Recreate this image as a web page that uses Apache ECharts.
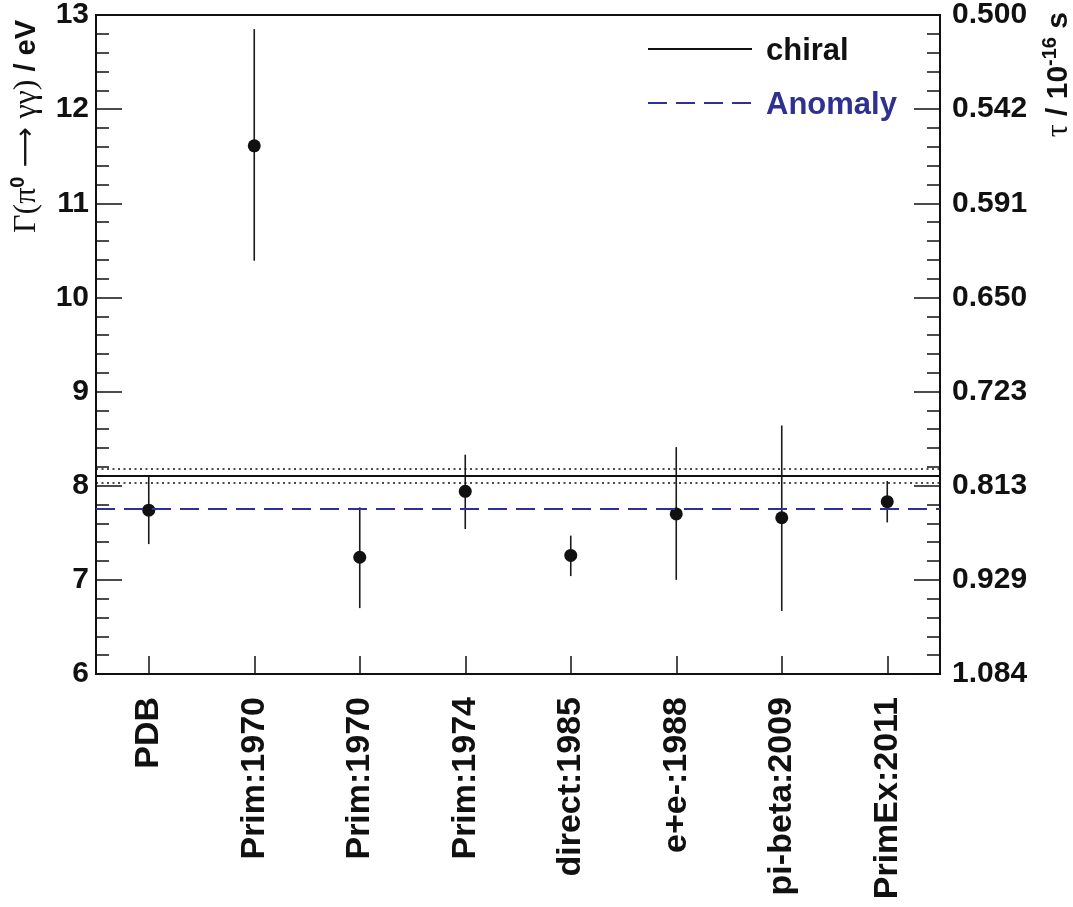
<!DOCTYPE html>
<html>
<head>
<meta charset="utf-8">
<script src="https://cdn.jsdelivr.net/npm/echarts@6/dist/echarts.min.js"></script>
<style>html,body{margin:0;padding:0;background:#fff}#c{width:1073px;height:907px}</style>
</head>
<body>
<div id="c"></div>
<script>
// ---- data ----
const categories = ['PDB','Prim:1970','Prim:1970','Prim:1974','direct:1985','e+e-:1988','pi-beta:2009','PrimEx:2011'];
const widths   = [7.74, 11.61, 7.24, 7.94, 7.26, 7.70, 7.66, 7.83];
const errLow   = [7.38, 10.39, 6.70, 7.54, 7.04, 7.00, 6.67, 7.61];
const errHigh  = [8.10, 12.85, 7.77, 8.33, 7.47, 8.41, 8.64, 8.05];
const chiralValue = 8.105;
const chiralBand  = [8.028, 8.18];
const anomalyValue = 7.765;
const legendNames = ['chiral', 'Anomaly'];
const leftTickValues  = [6, 7, 8, 9, 10, 11, 12, 13];
const rightTickLabels = ['1.084','0.929','0.813','0.723','0.650','0.591','0.542','0.500'];

const FONT = '"Liberation Sans", Arial, Helvetica, sans-serif';
const SERIF = '"Liberation Serif", "Times New Roman", serif';
const BLUE = '#2e3192';

const chart = echarts.init(document.getElementById('c'));

const yCommon = {
  type: 'value', min: 6, max: 13, interval: 1,
  splitLine: { show: false },
  axisLine: { show: true, lineStyle: { color: '#111', width: 1.5 } },
  axisTick: { show: true, inside: true, length: 26, lineStyle: { color: '#111', width: 1.5 } },
  minorTick: { show: true, splitNumber: 5, length: 13, lineStyle: { color: '#111', width: 1.5 } },
  axisLabel: { fontFamily: FONT, fontWeight: 'bold', fontSize: 30, color: '#111' }
};

chart.setOption({
  animation: false,
  grid: { left: 96, right: 133, top: 11, bottom: 233, show: true, borderColor: '#111', borderWidth: 2, backgroundColor: 'transparent' },
  xAxis: {
    type: 'category', data: categories, boundaryGap: true,
    axisLine: { show: true, lineStyle: { color: '#111', width: 2 } },
    axisTick: { show: true, inside: true, alignWithLabel: true, length: 18, lineStyle: { color: '#111', width: 1.5 } },
    axisLabel: { rotate: 90, margin: 23, fontFamily: FONT, fontWeight: 'bold', fontSize: 34, color: '#111', interval: 0 },
    splitLine: { show: false }
  },
  yAxis: [
    Object.assign({}, yCommon, { position: 'left', axisLabel: Object.assign({}, yCommon.axisLabel, { margin: 7 }) }),
    Object.assign({}, yCommon, { position: 'right', axisLabel: Object.assign({}, yCommon.axisLabel, { margin: 12,
      formatter: v => rightTickLabels[leftTickValues.indexOf(v)] }) })
  ],
  graphic: [
    {
      type: 'text', x: 27, y: 20, rotation: Math.PI / 2,
      style: {
        text: '{s|Γ(π}{sup|0}{a| ⟶ }{s|γγ)}{b| / eV}',
        align: 'right', verticalAlign: 'middle',
        rich: {
          s: { fontFamily: SERIF, fontSize: 32, fill: '#111' },
          a: { fontFamily: '"DejaVu Sans", sans-serif', fontSize: 28, fill: '#111' },
          sup: { fontFamily: FONT, fontWeight: 'bold', fontSize: 20, fill: '#111', verticalAlign: 'top', lineHeight: 38 },
          b: { fontFamily: FONT, fontWeight: 'bold', fontSize: 29, fill: '#111' }
        }
      }
    },
    {
      type: 'text', x: 1059, y: 12, rotation: Math.PI / 2,
      style: {
        text: '{s|τ}{b| / 10}{sup|-16}{b| s}',
        align: 'right', verticalAlign: 'middle',
        rich: {
          s: { fontFamily: SERIF, fontSize: 32, fill: '#111' },
          sup: { fontFamily: FONT, fontWeight: 'bold', fontSize: 20, fill: '#111', verticalAlign: 'top', lineHeight: 38 },
          b: { fontFamily: FONT, fontWeight: 'bold', fontSize: 30, fill: '#111' }
        }
      }
    },
    // legend
    { type: 'line', shape: { x1: 648, y1: 49, x2: 752, y2: 49 }, style: { stroke: '#111', lineWidth: 2 } },
    { type: 'text', x: 766, y: 51, style: { text: legendNames[0], fontFamily: FONT, fontWeight: 'bold', fontSize: 31, fill: '#111', verticalAlign: 'middle' } },
    { type: 'line', shape: { x1: 648, y1: 103, x2: 752, y2: 103 }, style: { stroke: BLUE, lineWidth: 2, lineDash: [19, 9] } },
    { type: 'text', x: 766, y: 105, style: { text: legendNames[1], fontFamily: FONT, fontWeight: 'bold', fontSize: 31, fill: BLUE, verticalAlign: 'middle' } }
  ],
  series: [
    {
      name: legendNames[0], type: 'line', data: [], symbol: 'none',
      markLine: {
        silent: true, symbol: 'none', label: { show: false },
        data: [
          { yAxis: chiralValue, lineStyle: { color: '#111', width: 2, type: 'solid' } },
          { yAxis: chiralBand[0], lineStyle: { color: '#111', width: 1.5, type: [2, 3.5] } },
          { yAxis: chiralBand[1], lineStyle: { color: '#111', width: 1.5, type: [2, 3.5] } }
        ]
      }
    },
    {
      name: legendNames[1], type: 'line', data: [], symbol: 'none',
      markLine: {
        silent: true, symbol: 'none', label: { show: false },
        data: [ { yAxis: anomalyValue, lineStyle: { color: BLUE, width: 2, type: [19, 9] } } ]
      }
    },
    {
      name: 'err', type: 'custom',
      data: categories.map((c, i) => [i, errLow[i], errHigh[i]]),
      renderItem: function (params, api) {
        const p1 = api.coord([api.value(0), api.value(1)]);
        const p2 = api.coord([api.value(0), api.value(2)]);
        return { type: 'line', shape: { x1: p1[0], y1: p1[1], x2: p2[0], y2: p2[1] }, style: { stroke: '#1a1a1a', lineWidth: 1.6 } };
      },
      z: 3
    },
    {
      name: 'width', type: 'scatter', data: categories.map((c, i) => [i, widths[i]]),
      symbol: 'circle', symbolSize: 13, itemStyle: { color: '#111', opacity: 1 }, z: 4
    }
  ]
});
</script>
</body>
</html>
